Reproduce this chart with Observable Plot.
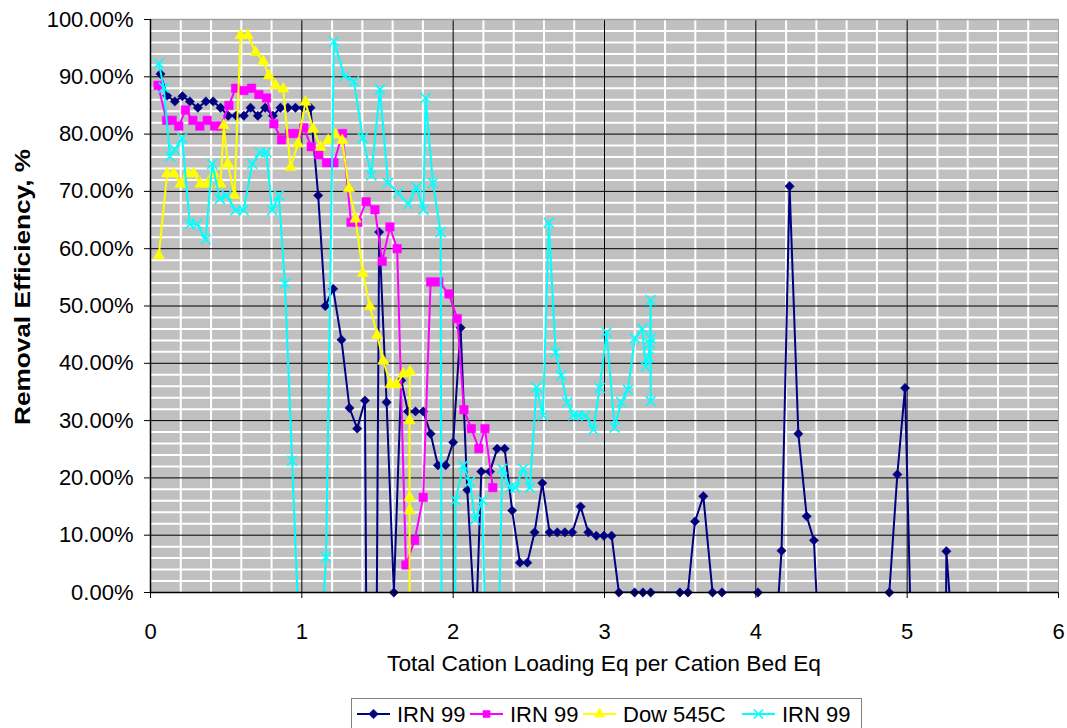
<!DOCTYPE html>
<html>
<head>
<meta charset="utf-8">
<script src="https://cdn.jsdelivr.net/npm/d3@7"></script>
<script src="https://cdn.jsdelivr.net/npm/@observablehq/plot@0.6"></script>
<style>
  body { margin: 0; background: #fff; }
  #wrap { position: relative; width: 1067px; height: 728px; overflow: hidden; font-family: "Liberation Sans", Arial, sans-serif; }
  #legend { position: absolute; left: 351px; top: 698px; }
</style>
</head>
<body>
<div id="wrap"></div>
<script>
// Removal efficiency (%) against total cation loading (Eq per cation bed Eq)
const seriesNames = ["IRN 99", "IRN 99", "Dow 545C", "IRN 99"];

const irnAX = [0.066,0.110,0.161,0.211,0.260,0.313,0.366,0.414,0.463,0.513,0.566,0.617,0.661,0.709,0.758,0.809,0.859,0.908,0.958,1.009,1.057,1.108,1.155,1.207,1.262,1.315,1.366,1.417,1.460,1.511,1.560,1.608,1.657,1.701,1.751,1.802,1.851,1.899,1.950,2.000,2.049,2.093,2.149,2.186,2.243,2.291,2.340,2.390,2.441,2.490,2.538,2.589,2.637,2.688,2.738,2.787,2.842,2.893,2.946,2.996,3.047,3.095,3.199,3.254,3.305,3.498,3.551,3.598,3.653,3.714,3.776,4.014,4.100,4.170,4.223,4.281,4.336,4.384,4.430,4.882,4.935,4.986,5.040,5.210,5.259,5.300];
const irnAY = [90.5,86.7,85.7,86.6,85.7,84.6,85.7,85.7,84.6,83.2,83.2,83.2,84.6,83.2,84.6,83.2,84.6,84.6,84.6,84.6,84.6,69.3,50.0,53.0,44.1,32.2,28.6,33.5,-147,62.9,33.2,0,37.0,31.6,31.6,31.6,27.7,22.2,22.2,26.2,46.2,17.9,-7.4,21.1,21.1,25.1,25.1,14.3,5.2,5.2,10.5,19.1,10.5,10.5,10.5,10.5,15.0,10.5,9.9,9.9,9.9,0,0,0,0,0,0,12.4,16.8,0,0,0,-20,7.3,70.9,27.7,13.3,9.1,-17,0,20.6,35.7,-23,-200,7.2,-7.6];

const irnBX = [0.050,0.106,0.143,0.187,0.231,0.280,0.326,0.375,0.423,0.467,0.518,0.562,0.617,0.668,0.716,0.767,0.815,0.866,0.919,0.969,1.013,1.062,1.112,1.163,1.212,1.269,1.325,1.370,1.425,1.483,1.531,1.582,1.630,1.688,1.745,1.802,1.851,1.905,1.972,2.027,2.071,2.120,2.170,2.210,2.262];
const irnBY = [88.5,82.4,82.4,81.4,84.2,82.4,81.4,82.4,81.4,81.4,85.0,88.0,87.6,88.0,86.9,86.3,81.8,79.0,80.1,80.1,81.1,77.8,76.4,75.0,75.0,80.1,64.6,64.6,68.2,66.8,57.8,63.8,60.0,4.8,9.1,16.6,54.2,54.2,52.1,47.8,31.9,28.6,25.1,28.6,18.3];

const dowX = [0.055,0.110,0.154,0.198,0.249,0.286,0.330,0.375,0.418,0.463,0.484,0.511,0.555,0.595,0.643,0.694,0.745,0.782,0.826,0.877,0.925,0.974,1.024,1.075,1.124,1.174,1.223,1.267,1.311,1.355,1.403,1.450,1.498,1.538,1.586,1.626,1.670,1.714,1.712,1.712,1.712,1.713];
const dowY = [58.8,73.1,73.1,71.3,73.1,73.1,71.3,71.3,73.1,71.3,81.5,74.8,69.3,97.2,97.2,94.3,92.7,90.2,88.5,87.9,74.2,78.3,85.6,80.9,77.7,78.9,79.9,78.9,70.5,65.2,55.7,49.9,44.9,40.4,36.3,36.3,38.2,38.6,30.0,16.6,14.3,-30];

const irnCX = [0.055,0.088,0.128,0.161,0.209,0.260,0.308,0.364,0.408,0.458,0.502,0.562,0.615,0.672,0.723,0.765,0.804,0.848,0.888,0.936,1.000,1.110,1.160,1.212,1.282,1.344,1.403,1.459,1.516,1.569,1.637,1.703,1.758,1.803,1.818,1.866,1.917,1.965,2.016,2.067,2.111,2.144,2.192,2.260,2.324,2.375,2.412,2.463,2.507,2.551,2.593,2.632,2.677,2.714,2.754,2.794,2.825,2.875,2.926,2.968,3.014,3.067,3.111,3.155,3.201,3.250,3.272,3.290,3.300,3.305,3.305,3.305];
const irnCY = [92.3,88.1,76.1,77.3,79.3,64.3,64.3,61.6,74.8,68.7,69.3,66.7,66.7,74.8,76.8,76.8,66.7,69.3,53.9,23.0,-20,-16,6.2,96.2,90.1,89.2,79.3,72.8,87.8,71.5,69.7,67.8,70.7,66.8,86.3,71.5,62.9,-440,16.1,22.2,19.3,12.7,16.1,-57,21.6,18.3,18.3,21.6,18.3,35.8,30.9,64.5,41.9,37.9,33.2,30.9,30.9,30.9,28.4,35.7,45.4,28.8,33.2,35.4,44.4,46.0,39.4,41.1,43.4,51.0,33.4,44.3];

const xTicks = [0, 1, 2, 3, 4, 5, 6];
const yTicks = [0, 0.1, 0.2, 0.3, 0.4, 0.5, 0.6, 0.7, 0.8, 0.9, 1.0];

const colors = ["#000080", "#ff00ff", "#ffff00", "#00ffff"];
const symbols = ["diamond2", "square", "triangle", "times"];
const radii = [4.2, 4.8, 4.2, 4.6];

const seriesX = [irnAX, irnBX, dowX, irnCX];
const seriesY = [irnAY, irnBY, dowY, irnCY];
const tables = seriesX.map((xs, i) => xs.map((x, j) => ({ x, y: seriesY[i][j] / 100 })));

// light grid every 0.2 on x and every 2% on y, darker grid on the labelled ticks
const minorX = d3.range(1, 30).map(k => k / 5).filter(v => Math.abs(v - Math.round(v)) > 1e-9);
const minorY = d3.range(1, 50).map(k => k / 50).filter(v => Math.abs(v * 10 - Math.round(v * 10)) > 1e-9);
const majorX = xTicks.slice(1, -1);
const majorY = yTicks.slice(1, -1);

const seriesMarks = tables.flatMap((rows, i) => {
  const filled = symbols[i] !== "times";
  return [
    Plot.line(rows, { x: "x", y: "y", stroke: colors[i], strokeWidth: 2, clip: true }),
    Plot.dot(rows.filter(d => d.y >= 0 && d.y <= 1), {
      x: "x", y: "y", symbol: symbols[i], r: radii[i],
      fill: filled ? colors[i] : "none",
      stroke: colors[i], strokeWidth: filled ? 0.5 : 1.6
    })
  ];
});

const chart = Plot.plot({
  width: 1067,
  height: 695,
  marginLeft: 150,
  marginRight: 9,
  marginTop: 19,
  marginBottom: 103,
  style: { fontFamily: "'Liberation Sans', Arial, sans-serif", fontSize: "22px", color: "#000", background: "#fff", overflow: "visible" },
  x: { domain: [0, 6], ticks: xTicks, tickSize: 6, tickPadding: 25, tickFormat: d3.format("d"), label: null },
  y: { domain: [0, 1], ticks: yTicks, tickSize: 6, tickPadding: 11, tickFormat: d3.format(".2%"), label: null },
  marks: [
    Plot.frame({ fill: "#c0c0c0", stroke: "none" }),
    Plot.ruleX(minorX, { stroke: "#ffffff", strokeWidth: 2 }),
    Plot.ruleY(minorY, { stroke: "#ffffff", strokeWidth: 2 }),
    Plot.ruleX(majorX, { stroke: "#000000", strokeWidth: 1 }),
    Plot.ruleY(majorY, { stroke: "#000000", strokeWidth: 1 }),
    Plot.ruleY([1], { stroke: "#a0a0a0", strokeWidth: 1.5 }),
    Plot.ruleX([6], { stroke: "#a0a0a0", strokeWidth: 1 }),
    ...seriesMarks,
    Plot.ruleY([0], { stroke: "#000", strokeWidth: 1.5 }),
    Plot.ruleX([0], { stroke: "#000", strokeWidth: 1.5 })
  ]
});

const wrap = document.getElementById("wrap");
wrap.appendChild(chart);

// axis titles
const svg = d3.select(chart);
svg.append("text")
  .attr("x", 604).attr("y", 671)
  .attr("text-anchor", "middle")
  .attr("font-size", 22)
  .attr("fill", "#000")
  .attr("textLength", 434)
  .attr("lengthAdjust", "spacingAndGlyphs")
  .text("Total Cation Loading Eq per Cation Bed Eq");
svg.append("text")
  .attr("transform", "translate(30,287) rotate(-90)")
  .attr("text-anchor", "middle")
  .attr("font-size", 22)
  .attr("font-weight", "bold")
  .attr("fill", "#000")
  .attr("textLength", 276)
  .attr("lengthAdjust", "spacingAndGlyphs")
  .text("Removal Efficiency, %");

// legend box below the chart
const legend = d3.select(wrap).append("svg")
  .attr("id", "legend")
  .attr("width", 512).attr("height", 32)
  .style("font-family", "'Liberation Sans', Arial, sans-serif");
legend.append("rect")
  .attr("x", 0.5).attr("y", 0.5).attr("width", 510).attr("height", 40)
  .attr("fill", "#fff").attr("stroke", "#808080");

const symbolPath = {
  diamond2: d3.symbol(d3.symbolDiamond2, 60)(),
  square: d3.symbol(d3.symbolSquare, 50)(),
  triangle: d3.symbol(d3.symbolTriangle, 45)(),
  times: d3.symbol(d3.symbolTimes, 55)()
};

// left edge of each legend entry inside the box
const entryLeft = [6, 119, 232, 391];
const cy = 16;
seriesNames.forEach((name, i) => {
  const cx = entryLeft[i];
  const g = legend.append("g");
  g.append("line").attr("x1", cx).attr("x2", cx + 33).attr("y1", cy).attr("y2", cy)
    .attr("stroke", colors[i]).attr("stroke-width", 2);
  const filled = symbols[i] !== "times";
  g.append("path").attr("d", symbolPath[symbols[i]])
    .attr("transform", `translate(${cx + 16.5},${cy})`)
    .attr("fill", filled ? colors[i] : "none")
    .attr("stroke", colors[i]).attr("stroke-width", filled ? 0.5 : 1.5);
  g.append("text").attr("x", cx + 40).attr("y", cy + 8)
    .attr("font-size", 22).attr("fill", "#000").text(name);
});
</script>
</body>
</html>
